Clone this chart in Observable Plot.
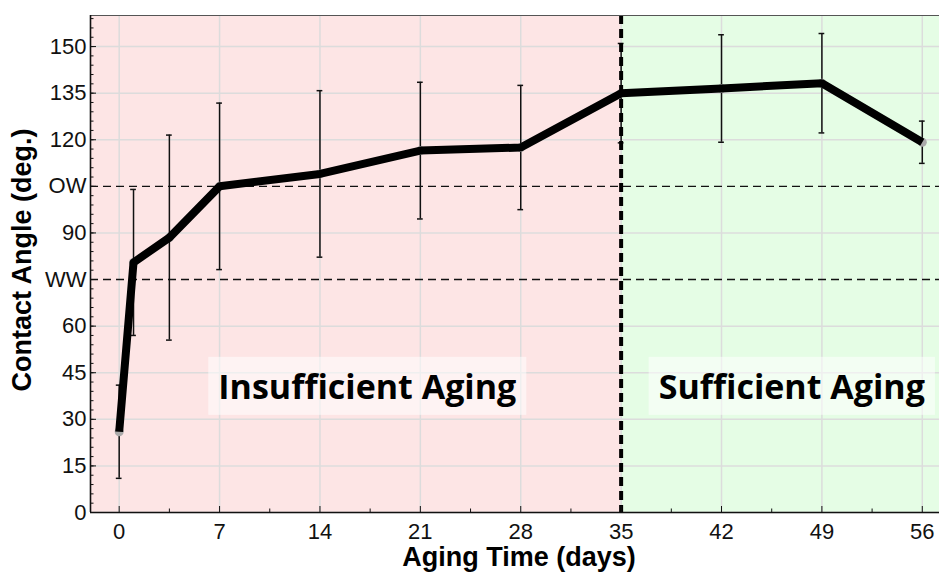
<!DOCTYPE html>
<html><head><meta charset="utf-8">
<script src="https://cdn.jsdelivr.net/npm/d3@7"></script>
<script src="https://cdn.jsdelivr.net/npm/@observablehq/plot@0.6"></script>
<style>
html,body{margin:0;padding:0;background:#fff;}
#chart svg{display:block;}
</style></head><body><div id="chart"></div>
<script>
// ---- data ----
const days   = [0, 1, 3.5, 7, 14, 21, 28, 35, 42, 49, 56];
const angle  = [26, 80.5, 88.5, 105, 109, 116.5, 117.5, 135, 136.5, 138.2, 119.2];
const errors = [15, 23.5, 33, 26.8, 26.8, 22, 20, 16, 17.3, 16, 6.8];

const xTicks = [0, 7, 14, 21, 28, 35, 42, 49, 56];
const xMinorTicks = [3.5, 10.5, 17.5, 24.5, 31.5, 38.5, 45.5, 52.5];
const yTicks = [0, 15, 30, 45, 60, 75, 90, 105, 120, 135, 150];
const yTickLabels = ["0", "15", "30", "45", "60", "WW", "90", "OW", "120", "135", "150"];
const yMinorTicks = [0,3,6,9,12,15,18,21,24,27,30,33,36,39,42,45,48,51,54,57,60,63,66,69,72,75,78,81,84,87,90,93,96,99,102,105,108,111,114,117,120,123,126,129,132,135,138,141,144,147,150,153,156,159];
const thresholdValues = [75, 105];          // WW, OW
const boundaryDay = 35;
const regionNames = ["Insufficient Aging", "Sufficient Aging"];
const regionStart = [-2, 35];
const regionEnd   = [35, 57.2];
const regionColors = ["#fde5e5", "#e5fde5"];
const regionLabelX = [17.3, 46.9];
const regionLabelY = 40.1;
const xLabel = "Aging Time (days)";
const yLabel = "Contact Angle (deg.)";

// ---- build tables ----
const points = days.map((d, i) => ({x: d, y: angle[i], e: errors[i]}));
const regions = regionNames.map((n, i) => ({name: n, start: regionStart[i], end: regionEnd[i], color: regionColors[i], lx: regionLabelX[i]}));
const yLabelMap = new Map(yTicks.map((v, i) => [v, yTickLabels[i]]));
const gridY = yTicks.filter(v => !thresholdValues.includes(v));

const tickFont = "'Liberation Sans', Arial, Helvetica, sans-serif";

const chart = Plot.plot({
  width: 939,
  height: 575,
  marginLeft: 90,
  marginRight: 0,
  marginTop: 15,
  marginBottom: 63,
  x: {domain: [regionStart[0], regionEnd[1]], axis: null},
  y: {domain: [0, 160], axis: null},
  style: {fontFamily: tickFont, background: "#fff", overflow: "visible", color: "#000"},
  marks: [
    Plot.rect(regions, {x1: "start", x2: "end", fill: "color"}),
    Plot.ruleX(xTicks, {stroke: "#dcdcdc", strokeWidth: 1.5}),
    Plot.ruleY(gridY, {stroke: "#dcdcdc", strokeWidth: 1.5}),
    Plot.ruleY(thresholdValues, {stroke: "#111", strokeWidth: 1.4, strokeDasharray: "8,5"}),
    Plot.text(regions, {x: "lx", y: regionLabelY, text: "name", fontFamily: "'Open Sans', Lato, sans-serif",
      fontWeight: 700, fontSize: 34, fill: "#000", className: "region-label"}),
    Plot.ruleX(points, {x: "x", y1: d => d.y - d.e, y2: d => d.y + d.e, stroke: "#111", strokeWidth: 1.5}),
    Plot.ruleY(points, {y: d => d.y + d.e, x1: d => d.x - 0.2, x2: d => d.x + 0.2, stroke: "#111", strokeWidth: 1.5}),
    Plot.ruleY(points, {y: d => d.y - d.e, x1: d => d.x - 0.2, x2: d => d.x + 0.2, stroke: "#111", strokeWidth: 1.5}),
    Plot.dot(points, {x: "x", y: "y", r: 4.5, fill: "#aaa"}),
    Plot.line(points, {x: "x", y: "y", stroke: "#000", strokeWidth: 8, strokeLinejoin: "round", strokeLinecap: "butt"}),
    Plot.ruleX([boundaryDay], {stroke: "#000", strokeWidth: 4, strokeDasharray: "9,5"}),
    Plot.ruleY([160], {stroke: "#555", strokeWidth: 1.2}),
    Plot.ruleX([regionStart[0]], {stroke: "#111", strokeWidth: 1.6}),
    Plot.ruleY([0], {stroke: "#111", strokeWidth: 1.6}),
    // axes (inward ticks)
    Plot.axisX(xTicks, {anchor: "bottom", tickSize: -6, tickPadding: 17, fontSize: 22, stroke: "#111", fill: "#111", label: null}),
    Plot.axisX(xMinorTicks, {anchor: "bottom", tickSize: -3.5, tickFormat: () => "", stroke: "#111", label: null}),
    Plot.axisY(yTicks, {anchor: "left", tickSize: -6, tickPadding: 10, fontSize: 22, stroke: "#111", fill: "#111",
      tickFormat: d => yLabelMap.get(d), label: null}),
    Plot.axisY(yMinorTicks, {anchor: "left", tickSize: -3.5, tickFormat: () => "", stroke: "#111", label: null}),
    Plot.text([yLabel], {frameAnchor: "left", textAnchor: "middle", lineAnchor: "middle", dx: -68, dy: -4,
      rotate: -90, fontSize: 27, fontWeight: "bold", fill: "#000"}),
    Plot.text([xLabel], {frameAnchor: "bottom", textAnchor: "middle", lineAnchor: "middle", dx: 4, dy: 45,
      fontSize: 27, fontWeight: "bold", fill: "#000"})
  ]
});

document.getElementById("chart").appendChild(chart);

// translucent white boxes behind the region labels
chart.querySelectorAll(".region-label text").forEach(t => {
  const b = t.getBBox();
  const r = document.createElementNS("http://www.w3.org/2000/svg", "rect");
  r.setAttribute("x", b.x - 10);
  r.setAttribute("y", b.y - 6);
  r.setAttribute("width", b.width + 20);
  r.setAttribute("height", b.height + 12);
  r.setAttribute("fill", "#ffffff");
  r.setAttribute("fill-opacity", "0.55");
  r.setAttribute("stroke", "none");
  if (t.getAttribute("transform")) r.setAttribute("transform", t.getAttribute("transform"));
  t.parentNode.insertBefore(r, t);
});
</script>
</body></html>
